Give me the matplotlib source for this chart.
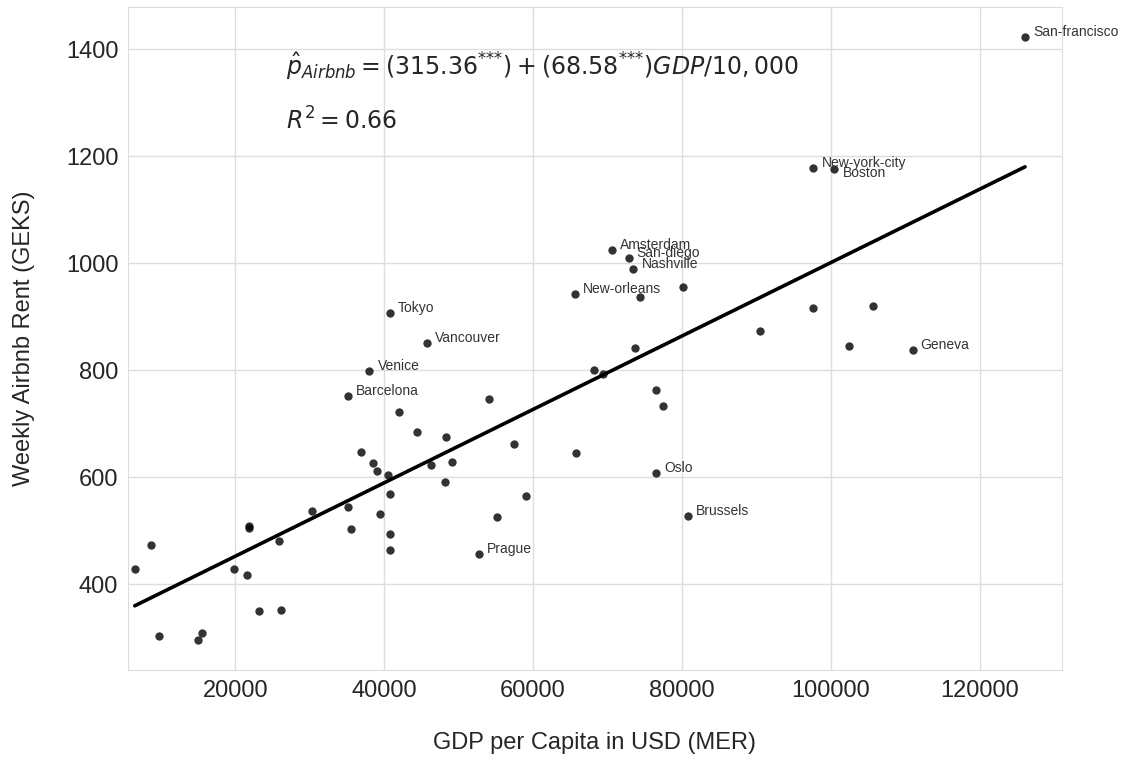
import matplotlib
matplotlib.use("Agg")
import matplotlib.pyplot as plt
import seaborn as sns
import numpy as np

# GDP per capita (USD, market exchange rates) and weekly Airbnb rent (GEKS)
gdp = [6500, 8740, 9780, 14970, 15470, 19860, 21830, 21830, 21560, 25870,
       23230, 26090, 30360, 38020, 35150, 54110, 41960, 44470, 48290, 57430,
       36850, 38470, 39050, 40570, 46270, 49140, 48200, 40800, 59090, 35150,
       39410, 55150, 35600, 40750, 40750, 52720, 40800, 45770, 70570, 72850,
       73480, 80070, 65590, 74340, 73660, 68150, 69360, 76490, 77430, 65730,
       76490, 80740, 97650, 100470, 97650, 105620, 90480, 102400, 110960, 126070]
rent = [428, 473, 304, 296, 310, 429, 509, 506, 418, 481,
        351, 352, 537, 798, 752, 746, 722, 684, 676, 662,
        647, 626, 612, 605, 623, 629, 591, 568, 565, 544,
        532, 526, 504, 494, 464, 456, 906, 851, 1025, 1009,
        990, 955, 942, 936, 842, 800, 793, 763, 734, 646,
        608, 528, 1178, 1176, 916, 920, 874, 845, 837, 1423]
city = ["", "", "", "", "", "", "", "", "", "",
        "", "", "", "Venice", "Barcelona", "", "", "", "", "",
        "", "", "", "", "", "", "", "", "", "",
        "", "", "", "", "", "Prague", "Tokyo", "Vancouver", "Amsterdam", "San-diego",
        "Nashville", "", "New-orleans", "", "", "", "", "", "", "",
        "Oslo", "Brussels", "New-york-city", "Boston", "", "", "", "", "Geneva", "San-francisco"]

# OLS estimates
intercept = 315.36
slope_per_10k = 68.58
r_squared = 0.66

x_ticks = [20000, 40000, 60000, 80000, 100000, 120000]
y_ticks = [400, 600, 800, 1000, 1200, 1400]

sns.set_style("whitegrid")
plt.rcParams["font.family"] = ["Liberation Sans", "DejaVu Sans"]

fig = plt.figure(figsize=(11.22, 7.57), dpi=100)
ax = fig.add_axes([0.1141, 0.1149, 0.8322, 0.8762])

ax.scatter(gdp, rent, s=36, color="black", alpha=0.8, linewidths=0, zorder=3)

xfit = np.array([min(gdp), max(gdp)])
yfit = intercept + slope_per_10k * xfit / 10000
ax.plot(xfit, yfit, color="black", lw=2.6, zorder=2)

for x, y, name in zip(gdp, rent, city):
    if not name:
        continue
    dy = -3.0 if name == "Boston" else 3.6
    ax.annotate(name, (x, y), xytext=(5.8, dy), textcoords="offset points",
                ha="left", va="center", fontsize=10, color="#333333", zorder=4)

stars = r"{*}{*}{*}"
eq = (r"$\hat{p}_{Airbnb} = (%.2f^{%s}) + (%.2f^{%s})GDP/10,000$"
      % (intercept, stars, slope_per_10k, stars))
ax.text(26800, 1350, eq, fontsize=17, color="#262626", va="baseline")
ax.text(26800, 1250, r"$R^2 = %.2f$" % r_squared,
        fontsize=17, color="#262626", va="baseline")

ax.set_xlim(5600, 131000)
ax.set_ylim(240, 1479)
ax.set_xticks(x_ticks)
ax.set_yticks(y_ticks)
ax.tick_params(axis="both", labelsize=17, pad=7, colors="#262626", length=0)
ax.set_xlabel("GDP per Capita in USD (MER)", fontsize=17, labelpad=22, color="#262626")
ax.set_ylabel("Weekly Airbnb Rent (GEKS)", fontsize=17, labelpad=22, color="#262626")

for sp in ax.spines.values():
    sp.set_color("#dddddd")
ax.grid(color="#dddddd", lw=1)

fig.savefig("out.png", dpi=100)
